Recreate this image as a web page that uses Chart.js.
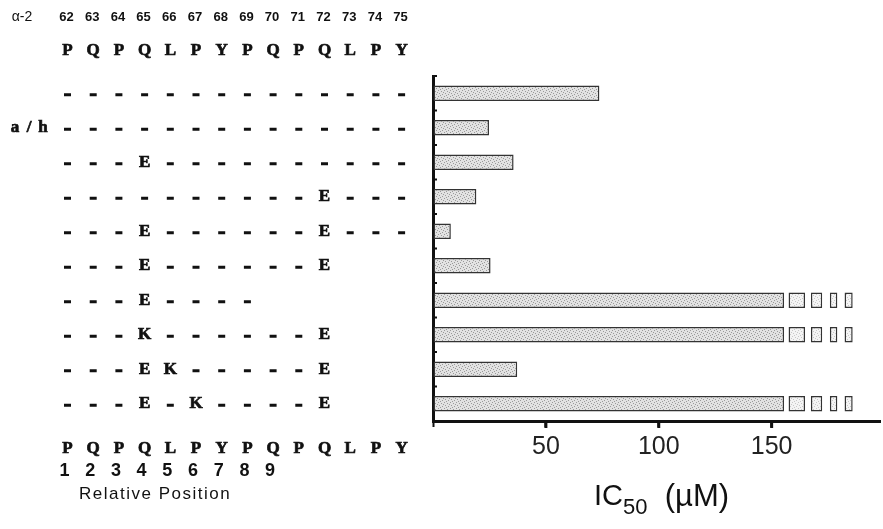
<!DOCTYPE html>
<html lang="en">
<head>
  <meta charset="UTF-8">
  <title>IC50 of alpha-2 peptide variants</title>
  <script src="https://cdn.jsdelivr.net/npm/chart.js"></script>
  <style>
    html, body { margin: 0; padding: 0; background: #fff; }
    .chart-box { width: 883px; height: 529px; position: relative; }
  </style>
</head>
<body>
  <div class="chart-box">
    <canvas id="icChart"></canvas>
  </div>
  <script>
    // residue numbers of the alpha-2 stretch and the wild-type sequence
    const residueNums = ['62','63','64','65','66','67','68','69','70','71','72','73','74','75'];
    const wildType = ['P','Q','P','Q','L','P','Y','P','Q','P','Q','L','P','Y'];
    const relPositions = ['1','2','3','4','5','6','7','8','9'];

    // one string per peptide, '-' = same as wild type
    const peptides = [
      '--------------',
      '--------------',
      '---E----------',
      '----------E---',
      '---E------E---',
      '---E------E',
      '---E----',
      '---K------E',
      '---EK-----E',
      '---E-K----E'
    ];
    const rowNames = ['', 'a/h', '', '', '', '', '', '', '', ''];

    // IC50 in uM (off-scale rows drawn up to the break)
    const ic50 = [73.7, 24.8, 35.7, 19.2, 7.9, 25.5, 155.5, 155.5, 37.3, 155.5];
    const offScale = [false, false, false, false, false, false, true, true, false, true];
    // the little boxes after the break, as [from, to]
    const breakBoxes = [[157.5, 164.8], [167.4, 172.4], [175.8, 179.1], [182.3, 185.9]];
    const xTicks = [50, 100, 150];

    const SEQ = 'bold 17px "Liberation Serif", serif';
    const SANS = '"Liberation Sans", Arial, sans-serif';
    const colX0 = 67.5, colStep = 25.7;

    // grainy grey fill, like the scanned bars
    function stipple(base, dots) {
      const c = document.createElement('canvas');
      c.width = 6; c.height = 6;
      const g = c.getContext('2d');
      g.fillStyle = base;
      g.fillRect(0, 0, 6, 6);
      g.fillStyle = dots;
      [[0,0],[3,1],[1,3],[4,4],[2,5],[5,2]].forEach(([a, b]) => g.fillRect(a, b, 1, 1));
      return g.createPattern(c, 'repeat');
    }

    // heavier letters: fill plus a thin outline
    function heavy(ctx, s, px, py) {
      ctx.fillText(s, px, py);
      ctx.strokeText(s, px, py);
    }

    const boxSets = breakBoxes.map((b, k) => ({
      label: 'break ' + (k + 1),
      data: offScale.map(o => o ? b : null),
      backgroundColor: stipple('#f4f4f4', '#c8c8c8'),
      borderColor: '#333',
      borderWidth: 1.5,
      borderSkipped: false,
      grouped: false,
      barPercentage: 0.45,
      categoryPercentage: 1
    }));

    const sequencePlugin = {
      id: 'sequenceText',
      afterDraw(chart) {
        const ctx = chart.ctx;
        const xs = chart.scales.x;
        const ys = chart.scales.y;
        const area = chart.chartArea;
        ctx.save();
        ctx.fillStyle = '#111';
        ctx.strokeStyle = '#111';
        ctx.lineWidth = 0.7;
        ctx.textAlign = 'center';
        ctx.textBaseline = 'middle';

        // header
        ctx.font = '14px ' + SANS;
        ctx.fillText('\u03b1-2', 22, 17);
        ctx.font = 'bold 13px ' + SANS;
        residueNums.forEach((n, i) => ctx.fillText(n, colX0 - 1 + i * colStep, 17));
        ctx.font = SEQ;
        wildType.forEach((c, i) => heavy(ctx, c, colX0 + i * colStep, 51));

        // rows aligned with the bars
        peptides.forEach((p, r) => {
          const py = ys.getPixelForValue(r);
          ctx.font = SEQ;
          p.split('').forEach((c, i) => {
            if (c === '-') ctx.fillRect(colX0 + i * colStep - 3.5, py, 7, 3);
            else heavy(ctx, c, colX0 + i * colStep, py);
          });
          // row name, spread out like a typewriter face
          rowNames[r].split('').forEach((c, i) => heavy(ctx, c, 15 + i * 14, py));
        });

        // footer
        ctx.font = SEQ;
        wildType.forEach((c, i) => heavy(ctx, c, colX0 + i * colStep, 449));
        ctx.font = 'bold 18px ' + SANS;
        relPositions.forEach((c, i) => ctx.fillText(c, colX0 - 3 + i * colStep, 471));
        ctx.font = '17px ' + SANS;
        ctx.textAlign = 'left';
        ctx.letterSpacing = '1.5px';
        ctx.fillText('Relative Position', 79, 494);
        ctx.letterSpacing = '0px';

        // small ticks on the category axis
        const half = (ys.getPixelForValue(1) - ys.getPixelForValue(0)) / 2;
        for (let i = 0; i < peptides.length; i++) {
          const by = ys.getPixelForValue(i) - half;
          ctx.fillRect(area.left, by - 1, 4, 2);
        }
        // tick marks under the value axis
        xTicks.forEach(v => {
          const bx = xs.getPixelForValue(v);
          ctx.fillRect(bx - 1.5, area.bottom, 3, 7);
        });

        // axis title with subscript
        const tx = 594, ty = 497;
        ctx.textAlign = 'left';
        ctx.font = '29px ' + SANS;
        ctx.fillText('IC', tx, ty);
        let w = ctx.measureText('IC').width;
        ctx.font = '22px ' + SANS;
        ctx.fillText('50', tx + w, ty + 11);
        w += ctx.measureText('50').width;
        ctx.font = '31px ' + SANS;
        ctx.fillText('  (\u00b5M)', tx + w, ty);
        ctx.restore();
      }
    };

    new Chart(document.getElementById('icChart'), {
      type: 'bar',
      data: {
        labels: peptides,
        datasets: [
          {
            label: 'IC50',
            data: ic50,
            backgroundColor: stipple('#e2e2e2', '#9a9a9a'),
            borderColor: '#333',
            borderWidth: 1.5,
            borderSkipped: false,
            grouped: false,
            barPercentage: 0.45,
            categoryPercentage: 1
          },
          ...boxSets
        ]
      },
      options: {
        indexAxis: 'y',
        responsive: true,
        maintainAspectRatio: false,
        animation: false,
        layout: { padding: { left: 433, right: 3, top: 76, bottom: 0 } },
        plugins: {
          legend: { display: false },
          tooltip: { enabled: false }
        },
        scales: {
          x: {
            min: 0,
            max: 198,
            afterFit: s => { s.height = 108; },
            afterBuildTicks: s => { s.ticks = [0, ...xTicks].map(v => ({ value: v })); },
            border: { color: '#111', width: 3 },
            grid: { drawOnChartArea: false, drawTicks: true, tickLength: 6, tickWidth: 2, tickColor: '#111' },
            ticks: {
              color: '#222',
              padding: 5,
              font: { family: SANS, size: 25 },
              callback: v => (xTicks.includes(v) ? String(v) : '')
            }
          },
          y: {
            afterFit: s => { s.width = 0; },
            border: { color: '#111', width: 3 },
            grid: { drawOnChartArea: false, drawTicks: false },
            ticks: { display: false }
          }
        }
      },
      plugins: [sequencePlugin]
    });
  </script>
</body>
</html>
